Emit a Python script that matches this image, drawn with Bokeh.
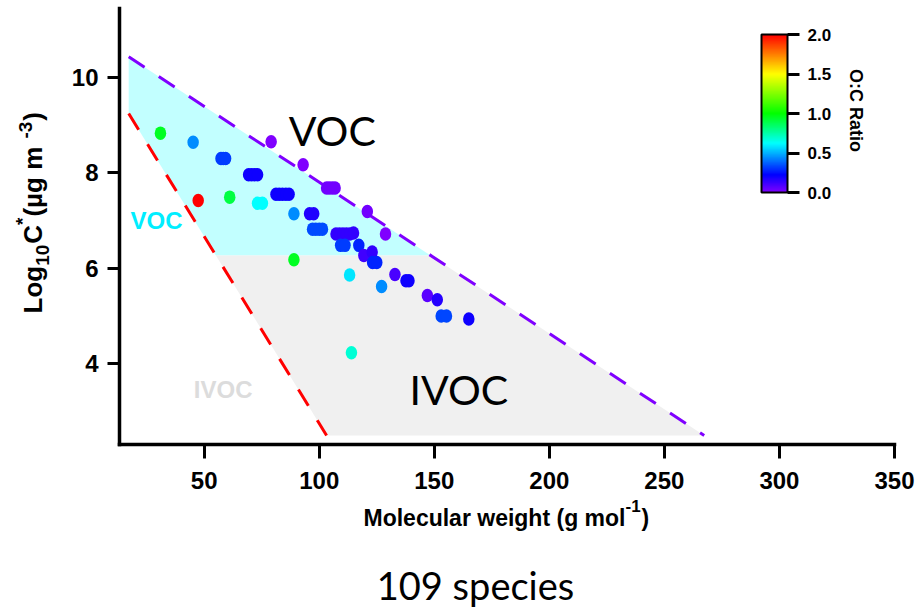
import colorsys
import numpy as np
from bokeh.plotting import figure
from bokeh.models import (ColumnDataSource, LinearColorMapper, ColorBar, FixedTicker,
                          PrintfTickFormatter, Label, Range1d, LinearAxis)
from bokeh.embed import file_html
from bokeh.resources import INLINE

# --- species: molecular weight (g/mol), log10 C* (ug/m3), O:C ratio ---
mw = [31.0, 45.2, 57.3, 58.3, 59.3, 79.1,
      69.3, 70.6, 71.9, 73.2, 93.0,
      103.2, 104.4, 105.7, 106.9, 47.4, 61.1, 73.2, 75.3,
      81.2, 82.6, 84.0, 85.5, 86.9, 89.0, 95.8, 97.6,
      97.1, 98.5, 100.0, 101.4, 120.9, 128.8,
      107.3, 108.8, 110.3, 111.8, 113.3, 114.9,
      109.3, 111.2, 117.2, 119.4, 123.0, 123.2, 125.0,
      89.0, 113.2, 132.9, 137.7, 139.0, 127.1, 147.0, 151.3,
      153.0, 155.3, 165.0, 114.0]
logc = [8.83, 8.64, 8.30, 8.30, 8.30, 8.65,
        7.96, 7.96, 7.96, 7.96, 8.17,
        7.68, 7.68, 7.68, 7.68, 7.42, 7.49, 7.36, 7.36,
        7.55, 7.55, 7.55, 7.55, 7.55, 7.14, 7.14, 7.14,
        6.82, 6.82, 6.82, 6.82, 7.19, 6.72,
        6.72, 6.72, 6.72, 6.72, 6.72, 6.74,
        6.48, 6.48, 6.48, 6.27, 6.34, 6.12, 6.12,
        6.18, 5.86, 5.87, 5.74, 5.74, 5.62, 5.43, 5.34,
        5.00, 5.00, 4.94, 4.23]
oc = [0.95, 0.44, 0.32, 0.32, 0.32, 0.0,
      0.2, 0.2, 0.2, 0.2, 0.0,
      0.03, 0.03, 0.03, 0.03, 2.0, 0.9, 0.62, 0.62,
      0.2, 0.2, 0.2, 0.2, 0.2, 0.44, 0.17, 0.17,
      0.34, 0.34, 0.34, 0.34, 0.03, 0.0,
      0.14, 0.14, 0.14, 0.14, 0.14, 0.14,
      0.32, 0.32, 0.28, 0.11, 0.14, 0.28, 0.28,
      0.95, 0.58, 0.1, 0.2, 0.2, 0.44, 0.07, 0.16,
      0.33, 0.33, 0.2, 0.68]

# --- volatility class boundaries ---
upper_mw = [17.2, 267.3]
upper_logc = [10.43, 2.50]
lower_mw = [17.2, 103.2]
lower_logc = [9.24, 2.50]
voc_ivoc_split = 6.27

x_ticks = [50, 100, 150, 200, 250, 300, 350]
y_ticks = [4, 6, 8, 10]
cbar_ticks = [0.0, 0.5, 1.0, 1.5, 2.0]

# axis extents
X0, X1 = 13.2, 350.0
Y0, Y1 = 2.31, 11.44

# rainbow palette: violet (0) -> blue -> cyan -> green -> yellow -> red (2)
stop_v = [0.0, 0.22, 0.62, 1.0, 1.5, 2.0]
stop_h = [270, 240, 180, 120, 60, 0]
levels = np.linspace(0, 2, 256)
palette = []
for h in np.interp(levels, stop_v, stop_h):
    r, g, b = colorsys.hsv_to_rgb(h / 360.0, 1.0, 1.0)
    palette.append("#%02x%02x%02x" % (round(r * 255), round(g * 255), round(b * 255)))
mapper = LinearColorMapper(palette=palette, low=0, high=2)

# canvas and the pixel box that the axes enclose
W, H = 920, 609
BL, BR, BT, BB = 119, 894, 8, 444
kx = (BR - BL) / (X1 - X0)
ky = (BB - BT) / (Y1 - Y0)

p = figure(width=W, height=H,
           x_range=Range1d(X0 - BL / kx, X1 + (W - BR) / kx),
           y_range=Range1d(Y0 - (H - BB) / ky, Y1 + BT / ky),
           x_axis_type=None, y_axis_type=None,
           output_backend="svg", toolbar_location=None,
           min_border_left=0, min_border_right=0, min_border_top=0, min_border_bottom=0)
p.outline_line_color = None
p.background_fill_color = "white"

xaxis = LinearAxis(fixed_location=Y0, bounds=(X0, X1), ticker=FixedTicker(ticks=x_ticks))
yaxis = LinearAxis(fixed_location=X0, bounds=(Y0, Y1), ticker=FixedTicker(ticks=y_ticks))
for ax, tick_out in ((xaxis, 14), (yaxis, 12)):
    ax.axis_line_width = 3.5
    ax.axis_line_color = "black"
    ax.axis_line_cap = "square"
    ax.major_tick_line_width = 3
    ax.major_tick_line_color = "black"
    ax.major_tick_out = tick_out
    ax.major_tick_in = 0
    ax.minor_tick_line_color = None
    ax.major_label_text_font = "Liberation Sans"
    ax.major_label_text_font_style = "bold"
    ax.major_label_text_font_size = "24px"
    ax.major_label_text_color = "black"
xaxis.major_label_standoff = 13
yaxis.major_label_standoff = 9


def cross_x(y, xs, ys):
    return float(np.interp(y, ys[::-1], xs[::-1]))


up_split = cross_x(voc_ivoc_split, upper_mw, upper_logc)
lo_split = cross_x(voc_ivoc_split, lower_mw, lower_logc)

# VOC band (light cyan) and IVOC band (light grey)
p.patch([upper_mw[0], up_split, lo_split, lower_mw[0]],
        [upper_logc[0], voc_ivoc_split, voc_ivoc_split, lower_logc[0]],
        fill_color="#c2ffff", line_color=None)
p.patch([lo_split, up_split, upper_mw[1], lower_mw[1]],
        [voc_ivoc_split, voc_ivoc_split, upper_logc[1], lower_logc[1]],
        fill_color="#f0f0f0", line_color=None)

p.line(upper_mw, upper_logc, line_color="#7f00ff", line_width=3, line_dash="19 17")
p.line(lower_mw, lower_logc, line_color="#ff0000", line_width=3, line_dash="19 17")

src = ColumnDataSource(dict(mw=mw, logc=logc, oc=oc))
p.ellipse("mw", "logc", source=src, width=11.5, height=13.5,
          width_units="screen", height_units="screen",
          fill_color={"field": "oc", "transform": mapper}, line_color=None)

p.add_layout(xaxis, "below")
p.add_layout(yaxis, "left")

cb = ColorBar(color_mapper=mapper, ticker=FixedTicker(ticks=cbar_ticks),
              formatter=PrintfTickFormatter(format="%.1f"),
              width=26, height=158, location=(761, 417), padding=0,
              bar_line_color="black", bar_line_width=2,
              major_tick_out=12, major_tick_in=0, major_tick_line_color="black",
              major_tick_line_width=3, minor_tick_line_color=None,
              label_standoff=8, major_label_text_font="Liberation Sans",
              major_label_text_font_style="bold", major_label_text_font_size="17px",
              major_label_text_color="black",
              background_fill_alpha=0, border_line_color=None)
p.add_layout(cb)

# the label anchor sits a little below the glyph baseline; lift it by this fraction of the size
BASE_LIFT = 0.4


def add_text(text, px, py, size, font="Liberation Sans", style="bold", color="black",
             angle=0.0, align="left", baseline="alphabetic"):
    if baseline == "alphabetic":
        if angle:
            px -= BASE_LIFT * size
        else:
            py -= BASE_LIFT * size
    p.add_layout(Label(x=px, y=H - py, x_units="screen", y_units="screen",
                       text=text, text_font=font, text_font_size=f"{size}px",
                       text_font_style=style, text_color=color, angle=angle,
                       text_align=align, text_baseline=baseline))


# Arial-bold advance widths (per 1000 em) for laying out rich axis titles
ADV = {" ": 278, "(": 333, ")": 333, "*": 389, "-": 333, "0": 556, "1": 556, "3": 556,
       "C": 722, "L": 611, "M": 833, "a": 556, "c": 556, "e": 556, "g": 611, "h": 611,
       "i": 278, "l": 278, "m": 889, "o": 611, "r": 389, "t": 333, "u": 611, "w": 778,
       "\u00b5": 611}


def adv(s, size):
    return sum(ADV[c] for c in s) * size / 1000.0


def rich(pieces, px, py, vertical=False):
    pos = 0.0
    for s, size, shift in pieces:
        if vertical:
            add_text(s, px + shift, py - pos, size, angle=np.pi / 2)
        else:
            add_text(s, px + pos, py - shift, size)
        pos += adv(s, size) + (1 if size < 20 else 0)


rich([("Molecular weight (g mol", 23, 0), ("-1", 17, 15), (")", 23, 0)], 363, 527)
rich([("Log", 26, 0), ("10", 19, 7), ("C", 26, 0), ("*", 19, -13),
      (" (\u00b5g m", 26, 0), ("-3", 19, -10), (")", 26, 0)], 43, 313, vertical=True)

add_text("O:C Ratio", 855, 110, 18, angle=-np.pi / 2, align="center", baseline="middle")

add_text("VOC", 331.7, 146, 41, font="Lato", style="normal", align="center")
add_text("IVOC", 458.3, 405, 41, font="Lato", style="normal", align="center")
add_text("VOC", 130, 230, 24, color="#00eeff")
add_text("IVOC", 193.3, 399, 24, color="#dcdcdc")
add_text("109 species", 475, 600, 38, font="Lato", style="normal", align="center")

open("out.html", "w").write(file_html(p, INLINE))
